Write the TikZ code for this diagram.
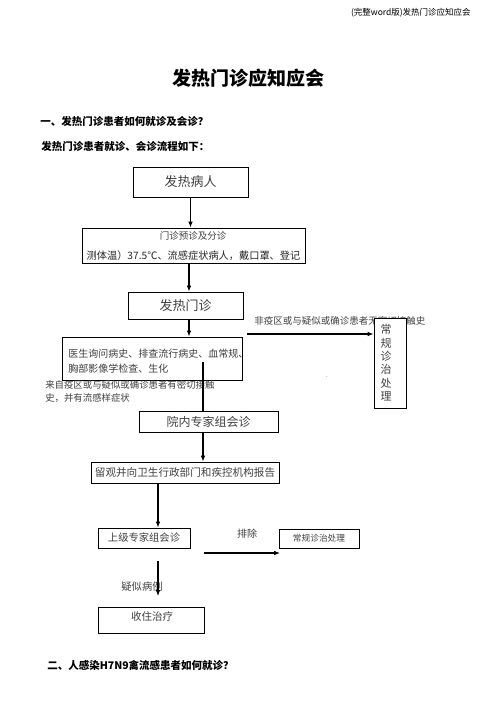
\documentclass[tikz,border=0pt]{standalone}
\usepackage{fontspec}
\setmainfont{Noto Sans CJK SC}
\usetikzlibrary{arrows.meta}
\newcommand{\pxf}[1]{\fontsize{\fpeval{#1*0.75}pt}{\fpeval{#1*0.9}pt}\selectfont}
\begin{document}
\begin{tikzpicture}[x=0.75pt,y=-0.75pt,
  box/.style={draw, line width=0.7pt, inner sep=0pt, text=black!75},
  lbl/.style={inner sep=0pt, text=black!75},
  hd/.style={inner sep=0pt, anchor=west, font=\pxf{10.5}\bfseries},
  arr/.style={line width=0.8pt, -{Latex[length=4.5pt,width=3.5pt]}},
  ln/.style={line width=0.8pt}]
\useasboundingbox (0,0) rectangle (496,702);
\fill[white] (0,0) rectangle (496,702);
% header and titles
\node[inner sep=0pt, anchor=east, font=\pxf{8.5}] (hdr) at (471,13) {(完整word版)发热门诊应知应会};
\node[inner sep=0pt, font=\pxf{19}\bfseries] (title) at (248,78) {发热门诊应知应会};
\node[hd] (h1) at (40,121) {一、发热门诊患者如何就诊及会诊？};
\node[hd] (h2) at (41,146) {发热门诊患者就诊、会诊流程如下：};
\node[hd] (h3) at (47,665) {二、人感染H7N9禽流感患者如何就诊？};
% boxes
\node[box, minimum width=86.25pt, minimum height=22.5pt, font=\pxf{13}] (b1) at (190.5,182) {发热病人};
\node[box, minimum width=167.25pt, minimum height=26.25pt] (b2) at (193.5,245.5) {};
\node[lbl, font=\pxf{9.5}] (b2a) at (193,236) {门诊预诊及分诊};
\node[lbl, font=\pxf{10.2}, text=black!85] (b2b) at (193.5,256) {测体温）37.5℃、流感症状病人，戴口罩、登记};
\node[box, minimum width=86.25pt, minimum height=20.25pt, font=\pxf{13}] (b3) at (185.5,305.5) {发热门诊};
\node[box, minimum width=135pt, minimum height=32.25pt] (b4) at (152,358.5) {};
\node[lbl, anchor=west, font=\pxf{10}] (b4a) at (68,354) {医生询问病史、排查流行病史、血常规、};
\node[lbl, anchor=west, font=\pxf{10}] (b4b) at (68,369) {胸部影像学检查、生化};
\node[lbl, anchor=west, font=\pxf{9.4}] (l1) at (45,385) {来自疫区或与疑似或确诊患者有密切接触};
\node[lbl, anchor=west, font=\pxf{9.4}] (l2) at (45,398) {史，并有流感样症状};
\node[lbl, anchor=west, font=\pxf{9.5}] (t1) at (254,321) {非疫区或与疑似或确诊患者无密切接触史};
\node[box, fill=white, minimum width=24pt, minimum height=67.5pt] (rb) at (390,363) {};
\foreach \c [count=\i] in {常,规,诊,治,处,理}
  \node[lbl, font=\pxf{11}] (rb\i) at (386,{316.5+13.3*\i}) {\c};
\node[lbl, font=\pxf{6}] (dot) at (327,377) {.};
\node[box, minimum width=104.25pt, minimum height=15.75pt, font=\pxf{12}] (b5) at (208.5,421.5) {院内专家组会诊};
\node[box, minimum width=141pt, minimum height=15.75pt, font=\pxf{10.6}] (b6) at (185,472.5) {留观并向卫生行政部门和疾控机构报告};
\node[box, minimum width=69pt, minimum height=15pt, font=\pxf{10.3}] (b7) at (144,538) {上级专家组会诊};
\node[box, minimum width=60pt, minimum height=14.25pt, font=\pxf{8.7}] (b8) at (319,538.5) {常规诊治处理};
\node[box, minimum width=79.5pt, minimum height=19.5pt] (b9) at (151,620) {};
\node[lbl, font=\pxf{10.5}] (b9a) at (152,616) {收住治疗};
\node[lbl, font=\pxf{10}] (pc) at (247,534) {排除};
\node[lbl, font=\pxf{10.3}] (ys) at (142,587) {疑似病例};
% helper coordinates
\coordinate (x189) at (189,0);
\coordinate (x203) at (203,0);
\coordinate (x158) at (158,0);
\coordinate (hs) at (247,334);
\coordinate (vs) at (203,362);
\coordinate (es) at (204,553);
\coordinate (ee) at (280,553);
\coordinate (ds) at (158,561);
\coordinate (de) at (158,596);
% connectors
\draw[arr] (b1.south) -- (b1.south |- b2.north);
\draw[arr] (b2.south -| x189) -- (b3.north -| x189);
\draw[arr] (b3.south -| x189) -- (b4.north -| x189);
\draw[arr] (hs) -- (hs -| rb.west);
\draw[ln] (vs) -- (vs |- b5.north);
\draw[arr] (b5.south -| x203) -- (b6.north -| x203);
\draw[arr] (b6.south -| x158) -- (b7.north -| x158);
\draw[arr] (es) -- (ee);
\draw[arr] (ds) -- (de);
\end{tikzpicture}
\end{document}
